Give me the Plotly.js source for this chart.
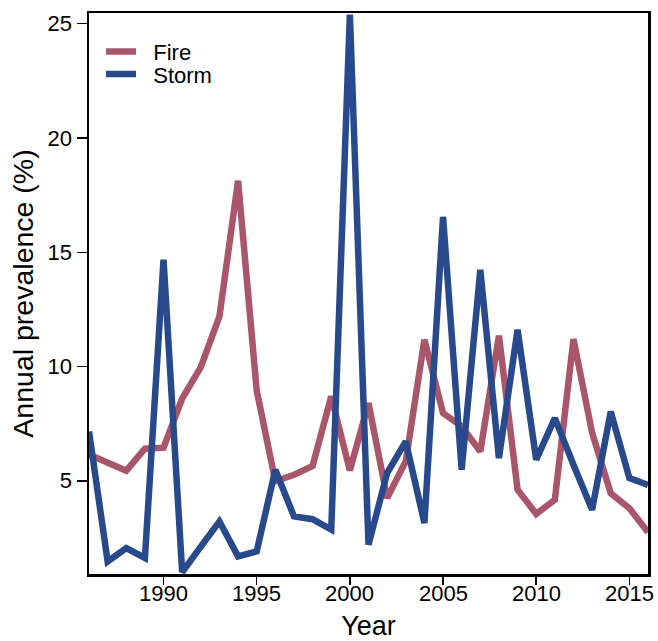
<!DOCTYPE html>
<html>
<head>
<meta charset="utf-8">
<script src="https://cdn.plot.ly/plotly-3.0.1.min.js"></script>
<style>
html, body { margin: 0; padding: 0; background: #ffffff; }
#chart { width: 658px; height: 641px; }
</style>
</head>
<body>
<div id="chart"></div>
<script>
const years = [1986, 1987, 1988, 1989, 1990, 1991, 1992, 1993, 1994, 1995, 1996,
  1997, 1998, 1999, 2000, 2001, 2002, 2003, 2004, 2005, 2006,
  2007, 2008, 2009, 2010, 2011, 2012, 2013, 2014, 2015, 2016];
const fire = [6.15, 5.8, 5.44, 6.4, 6.45, 8.6, 9.97, 12.19, 18.13, 8.95, 4.98,
  5.26, 5.65, 8.69, 5.45, 8.40, 4.24, 5.85, 11.17, 7.96, 7.38,
  6.28, 11.35, 4.61, 3.55, 4.17, 11.20, 7.1, 4.45, 3.80, 2.75];
const storm = [7.16, 1.47, 2.05, 1.62, 14.67, 1.0, 2.12, 3.22, 1.69, 1.91, 5.48,
  3.44, 3.32, 2.86, 25.4, 2.20, 5.34, 6.72, 3.15, 16.55, 5.48,
  14.23, 5.99, 11.61, 5.92, 7.74, 5.7, 3.73, 8.03, 5.12, 4.82];
const seriesNames = ["Fire", "Storm"];
const xTickVals = [1990, 1995, 2000, 2005, 2010, 2015];
const yTickVals = [5, 10, 15, 20, 25];

const FONT = "Liberation Sans, Arial, Helvetica, sans-serif";
const GAP = "\u00A0\u00A0";

const traces = [
  { x: years, y: fire, name: GAP + seriesNames[0], type: "scatter", mode: "lines",
    legend: "legend",
    line: { color: "#A9566B", width: 6.5, shape: "linear" } },
  { x: years, y: storm, name: GAP + seriesNames[1], type: "scatter", mode: "lines",
    legend: "legend2",
    line: { color: "#284A8C", width: 6.5, shape: "linear" } }
];

const legendBase = {
  xanchor: "left", yanchor: "middle",
  bgcolor: "rgba(0,0,0,0)", borderwidth: 0,
  font: { family: FONT, size: 22, color: "#000000" },
  itemwidth: 30
};

// x tick labels drawn as text annotations at the tick values (closer to the axis)
const xTickLabels = xTickVals.map(v => ({
  x: v, xref: "x", y: 0, yref: "paper",
  text: String(v), showarrow: false,
  xanchor: "center", yanchor: "top", yshift: -5,
  font: { family: FONT, size: 22, color: "#000" }
}));

const layout = {
  width: 658, height: 641,
  margin: { l: 89, r: 10, t: 13, b: 67 },
  paper_bgcolor: "#ffffff", plot_bgcolor: "#ffffff",
  font: { family: FONT, color: "#000000" },
  showlegend: true,
  legend: Object.assign({ x: 0.0215, y: 0.931 }, legendBase),
  legend2: Object.assign({ x: 0.0215, y: 0.8907 }, legendBase),
  annotations: xTickLabels,
  xaxis: {
    range: [1986, 2016],
    tickvals: xTickVals, ticktext: xTickVals.map(String),
    showticklabels: false,
    ticks: "outside", ticklen: 8, tickwidth: 1.5, tickcolor: "#000",
    showline: true, linewidth: 2.5, linecolor: "#000", mirror: true,
    showgrid: false, zeroline: false,
    tickfont: { family: FONT, size: 22, color: "#000" },
    title: { text: "Year", font: { family: FONT, size: 27, color: "#000" }, standoff: 40 }
  },
  yaxis: {
    range: [0.92, 25.47],
    tickvals: yTickVals, ticktext: yTickVals.map(String),
    ticks: "outside", ticklen: 10, tickwidth: 1.5, tickcolor: "#000",
    showline: true, linewidth: 2.5, linecolor: "#000", mirror: true,
    showgrid: false, zeroline: false,
    tickfont: { family: FONT, size: 22, color: "#000" },
    title: { text: "Annual prevalence (%)", font: { family: FONT, size: 28.5, color: "#000" }, standoff: 6 }
  }
};

Plotly.newPlot("chart", traces, layout, { displayModeBar: false, staticPlot: true });
</script>
</body>
</html>
